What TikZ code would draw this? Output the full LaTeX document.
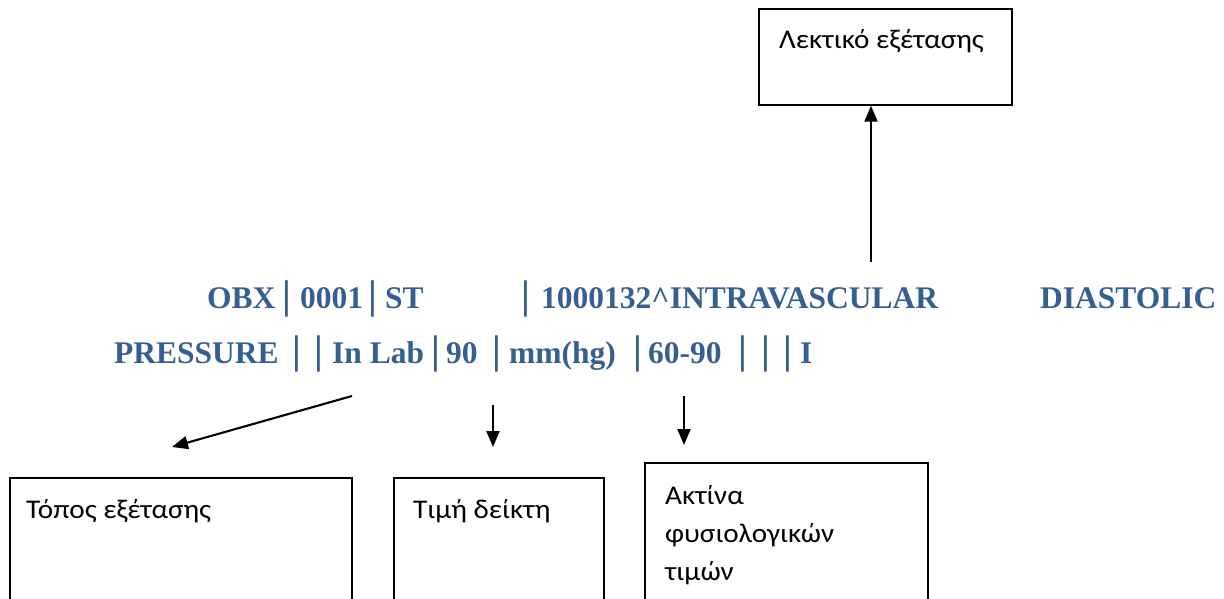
\documentclass[tikz,border=0pt]{standalone}
\usepackage{fontspec}
\setmainfont{Liberation Serif}
\newfontfamily\greekfont[FakeStretch=1.08]{Carlito}
\usetikzlibrary{arrows.meta}
\definecolor{hlblue}{RGB}{54,95,145}
\begin{document}
\begin{tikzpicture}[x=1pt,y=-1pt,
  code/.style={anchor=base west,inner sep=0pt,text=hlblue,font=\fontsize{31.5}{36}\selectfont\bfseries},
  sep/.style={anchor=base,inner sep=0pt,text=hlblue,font=\fontsize{40}{44}\selectfont\bfseries},
  gbox/.style={draw,line width=1.5pt},
  glabel/.style={anchor=base west,inner sep=0pt,font=\greekfont\fontsize{27}{38}\selectfont},
  arr/.style={line width=2.1pt,-{Triangle[width=13pt,length=16pt]}}]
\useasboundingbox (0,0) rectangle (1224,599);
% line 1
\node[code] (c1) at (207,308) {OBX};
\node[sep]  (b1) at (287,308) {|};
\node[code] (c2) at (300,308) {0001};
\node[sep]  (b2) at (373,308) {|};
\node[code] (c3) at (385,308) {ST};
\node[sep]  (b3) at (526,308) {|};
\node[code] (c4) at (541,308) {1000132\^{}INTRAVASCULAR};
\node[code] (c5) at (1040,308) {DIASTOLIC};
% line 2
\node[code] (d1) at (114,363) {PRESSURE};
\node[sep]  (e1) at (297,363) {|};
\node[sep]  (e2) at (319,363) {|};
\node[code] (d2) at (332,363) {In Lab};
\node[sep]  (e3) at (436,363) {|};
\node[code] (d3) at (446,363) {90};
\node[sep]  (e4) at (497,363) {|};
\node[code] (d4) at (509,363) {mm(hg)};
\node[sep]  (e5) at (638,363) {|};
\node[code] (d5) at (648,363) {60-90};
\node[sep]  (e6) at (743,363) {|};
\node[sep]  (e7) at (766,363) {|};
\node[sep]  (e8) at (788,363) {|};
\node[code] (d6) at (800,363) {I};
% boxes
\node[gbox,minimum width=253pt,minimum height=96pt] (top) at (885.5,57) {};
\node[glabel] (ttop) at (779,49) {Λεκτικό εξέτασης};
\node[gbox,minimum width=342pt,minimum height=122pt] (topos) at (181,539) {};
\node[glabel] (ttopos) at (26,518) {Τόπος εξέτασης};
\node[gbox,minimum width=210pt,minimum height=122pt] (timi) at (499,539) {};
\node[glabel] (ttimi) at (413,518) {Τιμή δείκτη};
\node[gbox,minimum width=283pt,minimum height=137pt] (aktina) at (786.5,531.5) {};
\node[glabel] (tak1) at (665,504) {Ακτίνα};
\node[glabel] (tak2) at (665,542) {φυσιολογικών};
\node[glabel] (tak3) at (665,580.5) {τιμών};
% arrows
\coordinate (s1) at (871,262);
\draw[arr] (s1) -- (s1 |- top.south);
\coordinate (s2) at (352,396);
\coordinate (e2) at (172,447);
\draw[arr] (s2) -- (e2);
\coordinate (s3) at (493,405);
\coordinate (t3) at (493,447);
\draw[arr] (s3) -- (t3);
\coordinate (s4) at (684,396);
\coordinate (t4) at (684,445);
\draw[arr] (s4) -- (t4);
\end{tikzpicture}
\end{document}
